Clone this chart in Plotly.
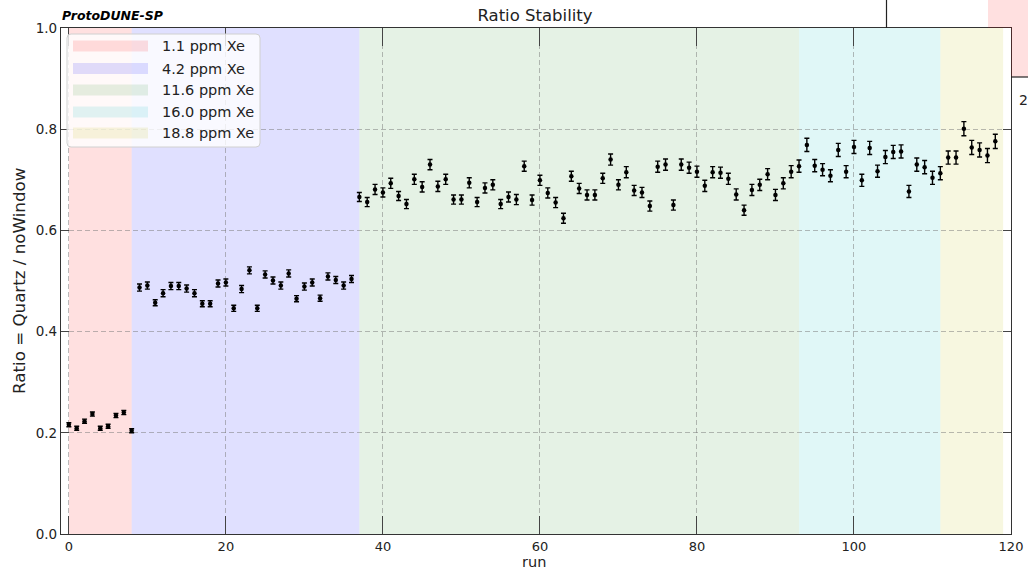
import plotly.graph_objects as go

# ---------------- data ----------------
band_labels = ["1.1 ppm Xe", "4.2 ppm Xe", "11.6 ppm Xe", "16.0 ppm Xe", "18.8 ppm Xe"]
band_starts = [0, 8, 37, 93, 111]
band_ends = [8, 37, 93, 111, 119]
band_colors = ["rgba(255,0,0,0.12)", "rgba(0,0,255,0.12)", "rgba(0,128,0,0.10)",
               "rgba(0,191,191,0.12)", "rgba(191,191,0,0.12)"]

ratio_11 = [0.216, 0.209, 0.223, 0.237, 0.209, 0.213, 0.234, 0.240, 0.204]
ratio_42 = [0.487, 0.491, 0.457, 0.476, 0.490, 0.490, 0.485, 0.476, 0.455, 0.455,
            0.495, 0.497, 0.446, 0.484, 0.521, 0.446, 0.513, 0.501, 0.491, 0.515,
            0.465, 0.489, 0.497, 0.466, 0.509, 0.502, 0.491, 0.504]
ratio_116 = [0.666, 0.656, 0.681, 0.675, 0.693, 0.668, 0.652, 0.701, 0.686, 0.730,
             0.687, 0.701, 0.661, 0.661, 0.694, 0.656, 0.684, 0.690, 0.652, 0.666,
             0.661, 0.727, 0.660, 0.699, 0.674, 0.655, 0.624, 0.707, 0.683, 0.670,
             0.670, 0.703, 0.740, 0.690, 0.715, 0.679, 0.675, 0.648, 0.726, 0.730,
             0.650, 0.730, 0.724, 0.716, 0.688, 0.715, 0.714, 0.702, 0.671, 0.640,
             0.680, 0.690, 0.711, 0.670, 0.693, 0.716]
ratio_160 = [0.727, 0.769, 0.728, 0.720, 0.708, 0.759, 0.716, 0.765, 0.699, 0.763,
             0.717, 0.745, 0.755, 0.756, 0.677, 0.730, 0.725, 0.704]
ratio_188 = [0.713, 0.744, 0.744, 0.801, 0.764, 0.759, 0.748, 0.776]

err_11 = [0.004, 0.004, 0.004, 0.004, 0.004, 0.004, 0.004, 0.004, 0.004]
err_42 = [0.007, 0.007, 0.006, 0.007, 0.007, 0.007, 0.007, 0.007, 0.006, 0.006,
          0.007, 0.007, 0.006, 0.007, 0.007, 0.006, 0.007, 0.007, 0.007, 0.007,
          0.006, 0.007, 0.007, 0.006, 0.007, 0.007, 0.007, 0.007]
err_116 = [0.009, 0.009, 0.010, 0.009, 0.010, 0.009, 0.009, 0.010, 0.010, 0.010,
           0.010, 0.010, 0.009, 0.009, 0.010, 0.009, 0.010, 0.010, 0.009, 0.010,
           0.010, 0.010, 0.010, 0.010, 0.010, 0.010, 0.010, 0.010, 0.010, 0.010,
           0.010, 0.010, 0.011, 0.010, 0.011, 0.010, 0.010, 0.010, 0.011, 0.011,
           0.010, 0.011, 0.011, 0.011, 0.011, 0.011, 0.011, 0.011, 0.011, 0.010,
           0.011, 0.011, 0.011, 0.011, 0.011, 0.012]
err_160 = [0.012, 0.013, 0.012, 0.012, 0.012, 0.013, 0.012, 0.013, 0.012, 0.013,
           0.012, 0.013, 0.013, 0.013, 0.012, 0.013, 0.013, 0.013]
err_188 = [0.013, 0.013, 0.013, 0.014, 0.014, 0.014, 0.014, 0.014]

ratio = ratio_11 + ratio_42 + ratio_116 + ratio_160 + ratio_188
err = err_11 + err_42 + err_116 + err_160 + err_188
runs = list(range(len(ratio)))

x_ticks = [0, 20, 40, 60, 80, 100, 120]
y_ticks = [0.0, 0.2, 0.4, 0.6, 0.8, 1.0]

# ---------------- layout geometry (pixels) ----------------
W, H = 1028, 570
L, R, T, B = 61, 17, 28, 36
PW, PH = W - L - R, H - T - B


def px(x):
    return (x - L) / PW


def py(y):
    return (H - B - y) / PH


fig = go.Figure()

fig.add_trace(go.Scatter(
    x=runs, y=ratio, mode="markers",
    marker=dict(color="black", size=4.5),
    error_y=dict(type="data", array=err, visible=True, color="black",
                 thickness=1.4, width=2.5),
    showlegend=False, hoverinfo="x+y",
))

shapes = []
# concentration bands
for s, e, c in zip(band_starts, band_ends, band_colors):
    shapes.append(dict(type="rect", xref="x", yref="paper", x0=s, x1=e, y0=0, y1=1,
                       fillcolor=c, line=dict(width=0), layer="below"))

# manual legend frame
lx0, lx1, ly0, ly1 = px(67), px(260), py(34), py(147)
rpx = 4
path = (f"M {px(67 + rpx)},{ly0} L {px(260 - rpx)},{ly0} Q {lx1},{ly0} {lx1},{py(34 + rpx)} "
        f"L {lx1},{py(147 - rpx)} Q {lx1},{ly1} {px(260 - rpx)},{ly1} "
        f"L {px(67 + rpx)},{ly1} Q {lx0},{ly1} {lx0},{py(147 - rpx)} "
        f"L {lx0},{py(34 + rpx)} Q {lx0},{ly0} {px(67 + rpx)},{ly0} Z")
shapes.append(dict(type="path", xref="paper", yref="paper", path=path,
                   fillcolor="rgba(255,255,255,0.8)", line=dict(color="#d0d0d0", width=1),
                   layer="above"))
annotations = []
row_y = [46, 68.5, 90, 112, 133]
for i, lab in enumerate(band_labels):
    cy = row_y[i]
    shapes.append(dict(type="rect", xref="paper", yref="paper",
                       x0=px(73), x1=px(148), y0=py(cy - 5.5), y1=py(cy + 5.5),
                       fillcolor=band_colors[i], line=dict(width=0), layer="above"))
    annotations.append(dict(text=lab, xref="paper", yref="paper", x=px(160), y=py(cy),
                            xanchor="left", yanchor="middle", showarrow=False,
                            font=dict(size=14.5, color="#222")))

# fragments of a neighbouring panel visible at top right
shapes.append(dict(type="line", xref="paper", yref="paper", x0=px(886.5), x1=px(886.5),
                   y0=py(0), y1=py(28), line=dict(color="#222", width=1.2)))
shapes.append(dict(type="rect", xref="paper", yref="paper", x0=px(988), x1=px(1028),
                   y0=py(28), y1=py(0), fillcolor="rgba(255,0,0,0.12)", line=dict(width=0)))
shapes.append(dict(type="rect", xref="paper", yref="paper", x0=px(1011), x1=px(1028),
                   y0=py(77), y1=py(28), fillcolor="rgba(255,0,0,0.12)", line=dict(width=0)))
shapes.append(dict(type="line", xref="paper", yref="paper", x0=px(1011), x1=px(1028),
                   y0=py(77), y1=py(77), line=dict(color="#222", width=1.2)))
annotations.append(dict(text="2", xref="paper", yref="paper", x=px(1017), y=py(100),
                        xanchor="left", yanchor="middle", showarrow=False,
                        font=dict(size=14, color="#222")))

# texts
annotations.append(dict(text="<b><i>ProtoDUNE-SP</i></b>", xref="paper", yref="paper",
                        x=px(60), y=py(16), xanchor="left", yanchor="middle",
                        showarrow=False, font=dict(size=12.5, color="black")))
annotations.append(dict(text="Ratio = Quartz / noWindow", xref="paper", yref="paper",
                        x=px(19), y=0.5, textangle=-90, xanchor="center", yanchor="middle",
                        showarrow=False, font=dict(size=16.7, color="#222")))
annotations.append(dict(text="run", xref="paper", yref="paper",
                        x=px(534), y=py(561.5), xanchor="center", yanchor="middle",
                        showarrow=False, borderpad=0, font=dict(size=14.5, color="#222")))

grid = dict(showgrid=True, gridcolor="rgba(120,120,120,0.5)", gridwidth=1, griddash="5px,3px")

fig.update_layout(
    width=W, height=H,
    margin=dict(l=L, r=R, t=T, b=B, autoexpand=False),
    paper_bgcolor="white", plot_bgcolor="white",
    font=dict(family="DejaVu Sans", size=13, color="#222"),
    title=dict(text="Ratio Stability", x=535 / W, xanchor="center",
               y=1 - 15 / H, yanchor="middle", yref="container",
               font=dict(size=16.5, color="#222")),
    shapes=shapes, annotations=annotations,
    xaxis=dict(range=[-1, 120], tickvals=x_ticks, ticks="inside", ticklen=18,
               tickcolor="#444", tickwidth=1.2, showline=True, linecolor="#333",
               linewidth=1.3, mirror="ticks", zeroline=False, automargin=False, **grid,
               tickfont=dict(size=13)),
    yaxis=dict(range=[0, 1], tickvals=y_ticks, tickformat=".1f", ticks="inside",
               ticklen=8, tickcolor="#444", tickwidth=1.2, showline=True, linecolor="#333",
               linewidth=1.3, mirror="ticks", zeroline=False, automargin=False, **grid,
               tickfont=dict(size=13.5)),
)

fig.write_html("out.html")
